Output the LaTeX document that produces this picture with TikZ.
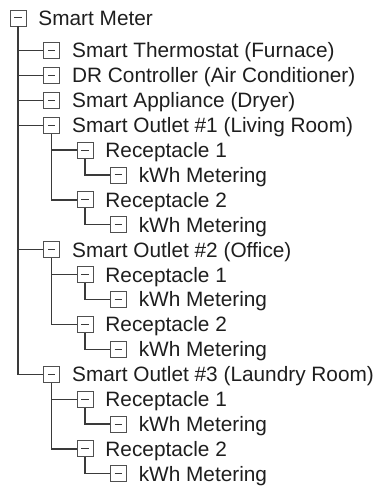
\documentclass[tikz,border=0pt]{standalone}
\usepackage{fontspec}
\setmainfont{Liberation Sans}
\usetikzlibrary{positioning}
\definecolor{treeline}{RGB}{58,58,58}
\definecolor{boxline}{RGB}{80,80,80}
\definecolor{treetext}{RGB}{30,30,30}
\tikzset{
  tbox/.style={rectangle, draw=boxline, line width=0.9bp, fill=white,
               minimum width=16bp, minimum height=16bp, inner sep=0pt,
               path picture={\draw[treeline, line width=1bp]
                 ([xshift=-3.6bp]path picture bounding box.center) --
                 ([xshift=3.6bp]path picture bounding box.center);}},
  tlbl/.style={inner sep=0pt, text=treetext, text height=14.9bp, text depth=0pt,
               font=\fontsize{20.8bp}{25bp}\selectfont},
  conn/.style={draw=treeline, line width=1.2bp},
}

\begin{document}
\begin{tikzpicture}[x=1bp,y=-1bp]
\useasboundingbox (0,0) rectangle (382,487);
% boxes and their labels, one row each
\foreach \n/\x/\y/\t in {m/18/18/Smart Meter,
  th/51.7/50.5/Smart Thermostat (Furnace),
  dr/51.7/75.4/DR Controller (Air Conditioner),
  ap/51.7/100.3/Smart Appliance (Dryer),
  oa/51.7/125.2/Smart Outlet \#1 (Living Room),
  oar/85/150.1/Receptacle 1,
  oarm/118.3/175/kWh Metering,
  oas/85/199.9/Receptacle 2,
  oasm/118.3/224.8/kWh Metering,
  ob/51.7/249.7/Smart Outlet \#2 (Office),
  obr/85/274.6/Receptacle 1,
  obrm/118.3/299.5/kWh Metering,
  obs/85/324.4/Receptacle 2,
  obsm/118.3/349.3/kWh Metering,
  oc/51.7/374.2/Smart Outlet \#3 (Laundry Room),
  ocr/85/399.1/Receptacle 1,
  ocrm/118.3/424/kWh Metering,
  ocs/85/448.9/Receptacle 2,
  ocsm/118.3/473.8/kWh Metering} {
  \node[tbox] (\n) at (\x,\y) {};
  \node[tlbl, right=11.8bp of \n] (\n-t) {\t};
}
% tree connectors, parent to child
\foreach \p/\c in {m/th, m/dr, m/ap, m/oa, m/ob, m/oc,
  oa/oar, oa/oas, oar/oarm, oas/oasm,
  ob/obr, ob/obs, obr/obrm, obs/obsm,
  oc/ocr, oc/ocs, ocr/ocrm, ocs/ocsm}
  \draw[conn] (\p.south) |- (\c.west);
\end{tikzpicture}
\end{document}
